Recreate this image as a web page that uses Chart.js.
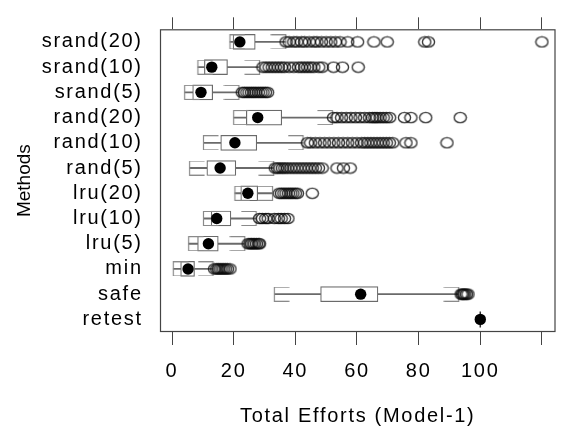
<!DOCTYPE html>
<html>
<head>
<meta charset="utf-8">
<script src="https://cdn.jsdelivr.net/npm/chart.js@4"></script>
<style>
  html, body { margin: 0; padding: 0; background: #fff; }
  #wrap { width: 565px; height: 432px; }
</style>
</head>
<body>
<div id="wrap"><canvas id="bw"></canvas></div>
<script>
// Methods, top to bottom
const methods = ['srand(20)', 'srand(10)', 'srand(5)', 'rand(20)', 'rand(10)', 'rand(5)',
                 'lru(20)', 'lru(10)', 'lru(5)', 'min', 'safe', 'retest'];

// box statistics
const whiskLo = [18.8,  8.4,  4.1, 20.0, 10.2,  5.7, 20.4, 10.2,  5.4,  0.4, 33.2, 100];
const q1      = [19.8, 10.5,  6.7, 24.1, 15.8, 11.3, 22.3, 12.7,  8.3,  2.8, 48.2, 100];
const median  = [22.0, 12.9,  9.4, 27.8, 20.4, 15.6, 24.6, 14.5, 11.8,  5.2, 61.2, 100];
const q3      = [27.0, 18.0, 13.2, 35.6, 27.5, 20.7, 27.8, 19.1, 15.0,  7.3, 66.8, 100];
const whiskHi = [36.9, 28.4, 21.7, 52.0, 42.5, 33.0, 32.6, 27.3, 23.6, 13.3, 93.0, 100];

// outliers, one list per method
const outliers = [
  [37, 38, 39.5, 40.5, 42, 43, 44.5, 46, 47, 48.5, 50, 51.5, 53, 54.5, 57, 60.2, 65.5, 69.8, 82, 83.2, 120],
  [29.5, 30.5, 31.5, 32.5, 33.5, 34.5, 35.5, 36.5, 38, 39.5, 41, 42, 43, 44, 45, 46, 47.6, 48.7, 52.4, 55.3, 60.4],
  [22.8, 23.5, 24.3, 25, 25.8, 26.5, 27.2, 28, 28.8, 29.5, 30.3, 31],
  [52.4, 53.5, 55, 56.5, 58, 59.5, 61, 62.5, 64, 65, 65.8, 66.5, 67.5, 68.5, 69.5, 70.6, 75.4, 77.5, 82.3, 93.5],
  [43.9, 45, 46.5, 48, 49.5, 51, 52.5, 54, 55.5, 57, 58.5, 60, 61.5, 62.5, 63.5, 64.5, 65.5, 66.5, 67.5, 68.5, 69.5, 70.5, 71.6, 75.9, 77.5, 89.2],
  [33.5, 34.2, 35, 35.8, 36.6, 37.5, 38.5, 39.5, 40.5, 41.5, 42.5, 43.5, 44.5, 45.5, 46.5, 47.5, 48.7, 53.5, 55.6, 57.8],
  [34.8, 35.5, 36.3, 37, 37.8, 38.5, 39.2, 40, 40.7, 45.5],
  [28.4, 29.3, 30.4, 31.2, 33.2, 34.5, 35.4, 36.5, 37.6],
  [24.7, 25.3, 25.8, 26.3, 26.8, 27.4, 28, 28.4],
  [13.8, 14.5, 15, 15.6, 16.2, 16.8, 17.4, 18, 18.8],
  [93.8, 94.2, 94.6, 95, 95.5, 96],
  []
];

const xTickValues = [0, 20, 40, 60, 80, 100, 120];
const xTickLabels = ['0', '20', '40', '60', '80', '100', ''];

const FONT = "'Liberation Sans', Arial, Helvetica, sans-serif";
const boxColor = '#6a6a6a';
const capColor = '#8a8a8a';
const frameColor = '#444';

// whisker end: vertical staple with short arms pointing back to the box
function capImage(dir) {
  const arm = 15, h = 15;
  const c = document.createElement('canvas');
  c.width = arm * 2 + 1;
  c.height = h;
  const g = c.getContext('2d');
  g.strokeStyle = capColor;
  g.lineWidth = 1.2;
  const mid = arm + 0.5, end = mid + dir * arm;
  g.beginPath();
  g.moveTo(end, 0.5); g.lineTo(mid, 0.5); g.lineTo(mid, h - 0.5); g.lineTo(end, h - 0.5);
  g.stroke();
  return c;
}

// outlier mark: open, slightly wide ellipse
function ringImage() {
  const c = document.createElement('canvas');
  c.width = 15; c.height = 13;
  const g = c.getContext('2d');
  g.strokeStyle = 'rgba(10,10,10,0.8)';
  g.lineWidth = 1.4;
  g.beginPath();
  g.ellipse(7.5, 6.5, 6.1, 5.1, 0, 0, Math.PI * 2);
  g.stroke();
  return c;
}

const hasWhisker = i => whiskLo[i] !== q1[i] || whiskHi[i] !== q3[i];
const pts = (vals, keep) => vals.map((v, i) => ({ x: v, y: methods[i] })).filter((p, i) => !keep || keep(i));

const outlierPts = outliers.flatMap((list, i) => list.map(v => ({ x: v, y: methods[i] })));

// frame + text spacing (the reference text is a bit wider than the plain font)
const spacing = {
  id: 'spacing',
  beforeDraw: chart => { chart.ctx.letterSpacing = '0px'; },
  afterDatasetsDraw: chart => {
    const { ctx, chartArea: a } = chart;
    ctx.save();
    ctx.strokeStyle = frameColor;
    ctx.lineWidth = 1.2;
    ctx.strokeRect(a.left + 0.5, a.top + 0.5, a.right - a.left - 1, a.bottom - a.top - 1);
    ctx.restore();
    ctx.letterSpacing = '1.7px';
  },
  afterDraw: chart => { chart.ctx.letterSpacing = '0px'; }
};

const fixedTicks = axis => { axis.ticks = xTickValues.map(v => ({ value: v })); };

new Chart(document.getElementById('bw'), {
  type: 'bar',
  data: {
    labels: methods,
    datasets: [
      {
        type: 'scatter', order: 0,
        data: pts(median),
        pointRadius: 5.7, pointBackgroundColor: '#000', pointBorderWidth: 0
      },
      {
        type: 'scatter', order: 1,
        data: outlierPts,
        pointStyle: ringImage(), pointRadius: 6
      },
      {
        type: 'scatter', order: 2,
        data: pts(whiskLo, hasWhisker),
        pointStyle: capImage(1), pointRadius: 7
      },
      {
        type: 'scatter', order: 2,
        data: pts(whiskHi, hasWhisker),
        pointStyle: capImage(-1), pointRadius: 7
      },
      {
        type: 'scatter', order: 2,
        data: pts(q1, i => q1[i] === q3[i]),
        pointStyle: 'line', rotation: 90, pointRadius: 8,
        pointBorderColor: '#333', pointBorderWidth: 1.5
      },
      {
        order: 3, grouped: false,
        data: methods.map((m, i) => [q1[i], q3[i]]),
        backgroundColor: '#fff', borderColor: boxColor, borderWidth: 1.2,
        borderSkipped: false, barThickness: 15
      },
      {
        order: 4, grouped: false,
        data: methods.map((m, i) => [whiskLo[i], q1[i]]),
        backgroundColor: boxColor, borderWidth: 0, barThickness: 1.2
      },
      {
        order: 4, grouped: false,
        data: methods.map((m, i) => [q3[i], whiskHi[i]]),
        backgroundColor: boxColor, borderWidth: 0, barThickness: 1.2
      }
    ]
  },
  options: {
    indexAxis: 'y',
    responsive: true,
    maintainAspectRatio: false,
    animation: false,
    events: [],
    layout: { padding: { left: 0, right: 5, top: 0, bottom: 0 } },
    plugins: {
      legend: { display: false },
      tooltip: { enabled: false },
      title: {
        display: true, position: 'left', text: 'Methods', fullSize: false,
        color: '#000', font: { family: FONT, size: 19, weight: 'normal' },
        padding: { top: 13, bottom: 0 }
      }
    },
    scales: {
      x: {
        type: 'linear', position: 'bottom', min: -3.9, max: 124.4,
        afterBuildTicks: fixedTicks,
        afterFit: axis => { axis.height = 100; },
        grid: { drawOnChartArea: false, tickLength: 13, color: '#444', z: 1 },
        border: { display: false },
        ticks: {
          z: 1, padding: 14, color: '#000', maxRotation: 0, autoSkip: false,
          font: { family: FONT, size: 20 },
          callback: (v, i) => xTickLabels[i]
        },
        title: {
          display: true, text: 'Total Efforts (Model-1)', color: '#000',
          font: { family: FONT, size: 20 }, padding: { top: 0, bottom: 4 }
        }
      },
      x2: {
        type: 'linear', position: 'top', min: -3.9, max: 124.4,
        afterBuildTicks: fixedTicks,
        afterFit: axis => { axis.height = 14; },
        grid: { drawOnChartArea: false, tickLength: 12, color: '#444', z: 1 },
        border: { display: false },
        ticks: { display: false }
      },
      y: {
        type: 'category',
        afterFit: axis => { axis.width = 124.2; },
        grid: { display: false, drawTicks: false },
        border: { display: false },
        ticks: { z: 1, padding: 17.3, color: '#000', autoSkip: false, font: { family: FONT, size: 20 } }
      }
    }
  },
  plugins: [spacing]
});
</script>
</body>
</html>
